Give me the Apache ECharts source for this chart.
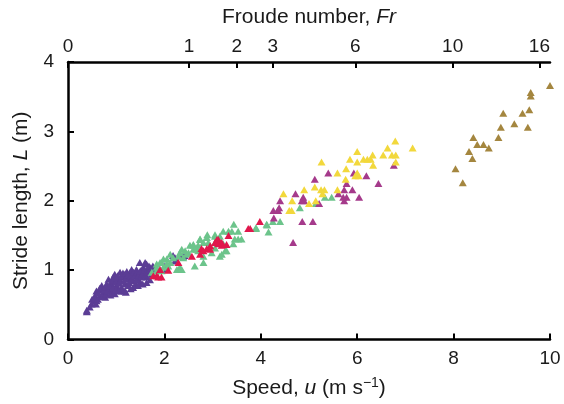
<!DOCTYPE html>
<html>
<head>
<meta charset="utf-8">
<script src="https://cdn.jsdelivr.net/npm/echarts@6/dist/echarts.min.js"></script>
<style>html,body{margin:0;padding:0;background:#fff;}#c{width:564px;height:404px;}</style>
</head>
<body>
<div id="c"></div>
<script>
// Froude (top) axis: labels and their positions in speed units
const froudeLabels = ['0', '1', '2', '3', '6', '10', '16'];
const froudeTickPos = [0, 2.51, 3.50, 4.25, 5.96, 7.98, 9.78];
const speedTicks = [0, 2, 4, 6, 8, 10];
const strideTicks = [0, 1, 2, 3, 4];

// [speed u (m/s), stride length L (m)]
const purple = [
  [0.39,0.40],[0.39,0.42],[0.49,0.51],[0.58,0.51],[0.53,0.56],[0.59,0.56],[0.56,0.63],[0.66,0.63],
  [0.77,0.61],[0.59,0.70],[0.73,0.68],[0.84,0.73],[0.91,0.68],[0.97,0.66],[0.70,0.78],[0.80,0.80],
  [0.91,0.80],[1.01,0.78],[1.11,0.75],[1.18,0.80],[0.84,0.87],[0.94,0.90],[1.04,0.87],[1.15,0.90],
  [1.25,0.87],[1.35,0.85],[1.46,0.87],[0.97,0.94],[1.08,0.97],[1.18,0.94],[1.29,0.97],[1.39,0.94],
  [1.53,0.97],[1.63,0.99],[1.32,1.01],[1.42,1.01],[1.56,1.04],[1.63,1.09],[1.70,1.04],[1.80,1.01],
  [1.49,1.11],[1.60,1.11],[1.25,0.78],[1.35,0.75],[1.18,0.70],[1.63,0.82],[1.63,0.90],[1.73,0.94],
  [1.11,0.70],[1.40,0.80],[1.50,0.82],[2.18,1.21],[2.32,1.21],[2.42,1.21],[2.22,1.13],[2.01,1.06],
  [2.04,1.01],[2.22,1.18],[2.39,1.20],[1.77,1.04],
  [0.45,0.47],[0.50,0.58],[0.55,0.60],[0.62,0.58],[0.63,0.67],[0.68,0.72],[0.66,0.74],[0.72,0.62],
  [0.75,0.72],[0.78,0.76],[0.80,0.66],[0.82,0.70],[0.86,0.77],[0.88,0.64],[0.90,0.84],[0.93,0.74],
  [0.95,0.86],[0.99,0.83],[1.00,0.72],[1.03,0.92],[1.06,0.81],[1.09,0.85],[1.12,0.92],[1.14,0.96],
  [1.16,0.84],[1.20,0.88],[1.22,0.98],[1.24,0.93],[1.27,0.82],[1.30,0.92],[1.33,0.88],[1.36,0.97],
  [1.38,0.91],[1.42,0.86],[1.44,0.97],[1.47,0.93],[1.50,0.99],[1.52,0.90],[1.55,0.95],[1.58,1.00],
  [1.60,0.93],[1.66,0.97],[1.68,1.06],[1.72,1.00],[1.76,1.06],[1.30,0.73],[1.45,0.78],[1.20,0.68],
  [1.05,0.70],[1.55,0.80],[1.70,0.86]
];
const green = [
  [2.05,1.16],[2.12,1.11],[1.94,1.11],[2.08,1.06],[2.26,1.01],[2.36,1.01],[2.63,1.06],[2.81,1.11],
  [2.18,1.18],[2.29,1.20],[2.39,1.18],[2.81,1.20],[3.15,1.20],[2.98,1.25],[2.60,1.30],[2.70,1.28],
  [2.43,1.28],[2.32,1.25],[2.50,1.25],[2.89,1.51],[3.05,1.51],[2.74,1.45],[2.81,1.40],[2.91,1.40],
  [2.70,1.36],[2.60,1.36],[2.53,1.36],[3.22,1.56],[3.33,1.56],[3.40,1.56],[3.53,1.56],[3.60,1.45],
  [3.53,1.45],[3.46,1.45],[3.44,1.66],[3.90,1.61],[4.12,1.66],[4.16,1.55],[3.05,1.49],[3.15,1.49],
  [3.22,1.38],[3.43,1.38],[3.05,1.32],[3.26,1.28],[2.74,1.44],[2.88,1.47],[3.05,1.40],[2.60,1.37],
  [2.36,1.30],[2.67,1.30],[2.12,1.23],[2.46,1.23],[1.98,1.16],[2.05,1.09],[1.84,1.04],[1.94,0.99],
  [1.74,0.97],[2.32,1.04],[3.19,1.23],[3.29,1.28],[1.84,1.09],[1.91,1.11],[1.98,1.04],[1.84,0.99],
  [5.33,2.05],[5.47,2.05],[4.81,1.90],[5.14,1.96],[4.35,1.86],[4.25,1.70],[4.40,1.70],[4.13,1.65],
  [3.90,1.60]
];
const red = [
  [3.98,1.70],[3.74,1.60],[3.33,1.50],[3.09,1.44],[3.12,1.38],[3.29,1.37],[2.95,1.35],[3.05,1.40],
  [3.15,1.40],[3.19,1.36],[2.77,1.31],[2.88,1.31],[2.57,1.20],[2.74,1.23],[2.29,1.11],[1.91,1.01],
  [2.08,1.00],[1.94,0.90],[3.12,1.44],[3.19,1.40],[2.95,1.30],[2.81,1.28],[1.77,0.92],[1.84,0.92],
  [1.87,0.90],[3.78,1.60]
];
const magenta = [
  [5.40,2.40],[5.93,2.40],[6.19,2.36],[6.76,2.51],[5.78,2.25],[6.44,2.25],[5.12,2.31],[4.72,2.10],
  [5.73,2.16],[5.90,2.16],[5.61,2.10],[4.40,2.00],[4.88,2.05],[4.85,2.00],[4.90,2.00],[5.71,2.05],
  [5.78,2.05],[5.73,2.00],[6.04,2.05],[5.21,1.96],[4.38,1.90],[4.26,1.86],[4.27,1.75],[4.86,1.70],
  [5.08,1.70],[4.67,1.40],[4.36,1.86]
];
const yellow = [
  [6.79,2.86],[6.63,2.76],[7.15,2.76],[6.00,2.71],[5.85,2.60],[6.13,2.60],[6.21,2.60],[6.28,2.60],
  [6.32,2.66],[6.54,2.66],[6.72,2.66],[6.80,2.66],[6.80,2.56],[6.00,2.56],[6.33,2.51],[5.26,2.56],
  [5.77,2.46],[5.59,2.40],[6.00,2.40],[5.96,2.36],[6.03,2.36],[5.76,2.31],[5.12,2.20],[4.90,2.16],
  [5.25,2.16],[5.32,2.16],[5.59,2.16],[5.28,2.10],[4.47,2.10],[4.65,2.00],[5.14,2.00],[5.00,1.96],
  [4.59,1.86],[4.64,1.86]
];
const brown = [
  [10.0,3.66],[9.60,3.56],[9.60,3.51],[9.57,3.31],[9.43,3.26],[9.03,3.26],[9.26,3.11],[9.54,3.06],
  [8.98,3.06],[8.93,2.91],[8.41,2.91],[8.49,2.81],[8.62,2.81],[8.73,2.76],[8.32,2.71],[8.39,2.61],
  [8.04,2.46],[8.19,2.26]
];

const FONT = '"Liberation Sans", Arial, Helvetica, sans-serif';
const TXT = '#1a1a1a';
const axisLine = { show: true, lineStyle: { color: '#000', width: 2.5 } };
const axisTick = { show: true, inside: true, length: 6, lineStyle: { color: '#000', width: 2 } };
const lbl = { color: TXT, fontSize: 19, fontFamily: FONT };
const nameStyle = {
  color: TXT, fontSize: 21, fontFamily: FONT,
  rich: {
    i: { fontStyle: 'italic', fontSize: 21, fontFamily: FONT, color: TXT },
    sup: { fontSize: 14, fontFamily: FONT, color: TXT, padding: [0, 0, 10, 0] }
  }
};

function sc(data, color) {
  return {
    type: 'scatter', data: data, symbol: 'triangle', symbolSize: [8, 7],
    itemStyle: { color: color, opacity: 1 }, silent: true, xAxisIndex: 0, yAxisIndex: 0
  };
}

const chart = echarts.init(document.getElementById('c'), null, { renderer: 'canvas' });
chart.setOption({
  animation: false,
  backgroundColor: '#fff',
  grid: { left: 68, right: 14, top: 62, bottom: 63, containLabel: false },
  xAxis: [
    {
      type: 'value', position: 'bottom', min: 0, max: 10, interval: 2,
      axisLine: axisLine, axisTick: axisTick, splitLine: { show: false },
      axisLabel: Object.assign({ margin: 10 }, lbl),
      name: 'Speed, {i|u} (m s{sup|−1})', nameLocation: 'middle', nameGap: 37,
      nameTextStyle: nameStyle
    },
    {
      type: 'value', position: 'top', min: 0, max: 10,
      axisLine: axisLine,
      axisTick: Object.assign({ customValues: froudeTickPos }, axisTick),
      splitLine: { show: false },
      axisLabel: Object.assign({
        margin: 6, customValues: froudeTickPos,
        formatter: function (v) {
          let best = 0;
          for (let k = 0; k < froudeTickPos.length; k++) {
            if (Math.abs(froudeTickPos[k] - v) < Math.abs(froudeTickPos[best] - v)) best = k;
          }
          return froudeLabels[best];
        }
      }, lbl),
      name: 'Froude number, {i|Fr}', nameLocation: 'middle', nameGap: 34,
      nameTextStyle: nameStyle
    }
  ],
  yAxis: {
    type: 'value', min: 0, max: 4, interval: 1,
    axisLine: axisLine, axisTick: axisTick, splitLine: { show: false },
    axisLabel: Object.assign({ margin: 14 }, lbl),
    name: 'Stride length, {i|L} (m)', nameLocation: 'middle', nameGap: 36,
    nameTextStyle: nameStyle
  },
  series: [
    sc(purple, '#5b3d95'),
    sc(green, '#6cc48b'),
    sc(red, '#e0174c'),
    sc(magenta, '#a53a8b'),
    sc(yellow, '#f2d83c'),
    sc(brown, '#a4863f')
  ]
});
</script>
</body>
</html>
